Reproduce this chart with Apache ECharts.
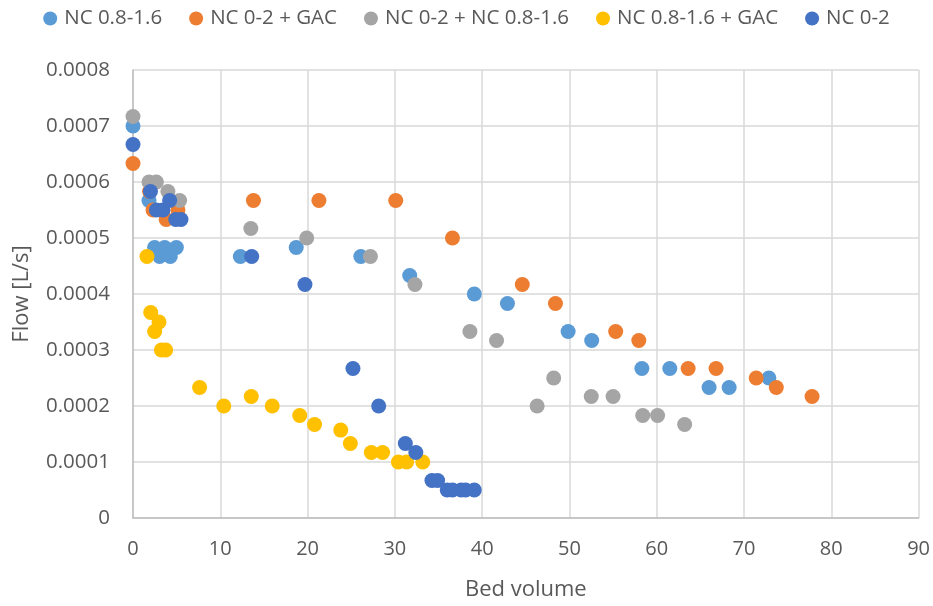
<!DOCTYPE html>
<html><head><meta charset="utf-8">
<script src="https://cdn.jsdelivr.net/npm/echarts@6/dist/echarts.min.js"></script>
<style>html,body{margin:0;padding:0;background:#fff}#c{width:933px;height:606px}</style>
</head><body><div id="c"></div>
<script>
const seriesNames = ['NC 0.8-1.6', 'NC 0-2 + GAC', 'NC 0-2 + NC 0.8-1.6', 'NC 0.8-1.6 + GAC', 'NC 0-2'];
const seriesColors = ['#5B9BD5', '#ED7D31', '#A5A5A5', '#FFC000', '#4472C4'];

const nc0816 = [
  [0, 0.0007], [1.83, 0.000567], [2.48, 0.000483], [3.05, 0.000467], [3.63, 0.000483], [4.27, 0.000467],
  [4.97, 0.000483], [12.3, 0.000467], [18.7, 0.000483], [26.1, 0.000467], [31.7, 0.000433], [39.1, 0.0004],
  [42.9, 0.000383], [49.85, 0.000333], [52.55, 0.000317], [58.3, 0.000267], [61.5, 0.000267], [66.0, 0.000233],
  [68.3, 0.000233], [72.85, 0.00025]
];
const nc02gac = [
  [0, 0.000633], [1.9, 0.000583], [2.29, 0.00055], [3.8, 0.000533], [5.15, 0.00055], [13.8, 0.000567],
  [21.3, 0.000567], [30.1, 0.000567], [36.6, 0.0005], [44.6, 0.000417], [48.4, 0.000383], [55.3, 0.000333],
  [57.95, 0.000317], [63.6, 0.000267], [66.8, 0.000267], [71.4, 0.00025], [73.7, 0.000233], [77.8, 0.000217]
];
const nc02nc0816 = [
  [0, 0.000717], [1.83, 0.0006], [2.68, 0.0006], [4.0, 0.000583], [5.34, 0.000567], [13.5, 0.000517],
  [19.9, 0.0005], [27.2, 0.000467], [32.3, 0.000417], [38.6, 0.000333], [41.65, 0.000317], [46.3, 0.0002],
  [48.2, 0.00025], [52.5, 0.000217], [55.0, 0.000217], [58.4, 0.000183], [60.1, 0.000183], [63.2, 0.000167]
];
const nc0816gac = [
  [1.6, 0.000467], [2.03, 0.000367], [2.48, 0.000333], [2.98, 0.00035], [3.25, 0.0003], [3.74, 0.0003],
  [7.63, 0.000233], [10.4, 0.0002], [13.55, 0.000217], [15.95, 0.0002], [19.1, 0.000183], [20.8, 0.000167],
  [23.8, 0.000157], [24.9, 0.000133], [27.3, 0.000117], [28.6, 0.000117], [30.4, 0.0001], [31.35, 0.0001],
  [33.2, 0.0001]
];
const nc02 = [
  [0, 0.000667], [2.0, 0.000583], [2.68, 0.00055], [3.43, 0.00055], [4.2, 0.000567], [4.9, 0.000533],
  [5.5, 0.000533], [13.6, 0.000467], [19.7, 0.000417], [25.2, 0.000267], [28.15, 0.0002], [31.2, 0.000133],
  [32.4, 0.000117], [34.25, 0.000067], [34.9, 0.000067], [36.0, 0.00005], [36.6, 0.00005], [37.6, 0.00005],
  [38.1, 0.00005], [39.1, 0.00005]
];
const allData = [nc0816, nc02gac, nc02nc0816, nc0816gac, nc02];

const xTicks = { min: 0, max: 90, interval: 10 };
const yTicks = { min: 0, max: 0.0008, interval: 0.0001 };

const font = 'Open Sans, Noto Sans, sans-serif';
const chart = echarts.init(document.getElementById('c'));
chart.setOption({
  animation: false,
  backgroundColor: '#fff',
  textStyle: { fontFamily: font },
  legend: {
    top: 3, left: 'center', itemGap: 27, itemWidth: 14, itemHeight: 14,
    icon: 'circle',
    textStyle: { fontSize: 20.5, color: '#595959', fontFamily: font, padding: [0, 0, 0, 2] },
    data: seriesNames
  },
  grid: { left: 133, right: 14, top: 70, bottom: 85, containLabel: false },
  xAxis: {
    type: 'value', min: xTicks.min, max: xTicks.max, interval: xTicks.interval,
    name: 'Bed volume', nameLocation: 'middle', nameGap: 61,
    nameTextStyle: { fontSize: 22, color: '#595959', fontFamily: font },
    axisLine: { show: true, lineStyle: { color: '#BFBFBF', width: 1.5 } },
    axisTick: { show: false },
    axisLabel: { fontSize: 20, color: '#595959', margin: 21, fontFamily: font },
    splitLine: { show: true, lineStyle: { color: '#D9D9D9', width: 1.5 } }
  },
  yAxis: {
    type: 'value', min: yTicks.min, max: yTicks.max, interval: yTicks.interval,
    name: 'Flow [L/s]', nameLocation: 'middle', nameGap: 100, nameRotate: 90,
    nameTextStyle: { fontSize: 22, color: '#595959', fontFamily: font },
    axisLine: { show: true, lineStyle: { color: '#BFBFBF', width: 1.5 } },
    axisTick: { show: false },
    axisLabel: { fontSize: 20.5, color: '#595959', margin: 23, fontFamily: font,
      formatter: v => v === 0 ? '0' : v.toFixed(4) },
    splitLine: { show: true, lineStyle: { color: '#D9D9D9', width: 1.5 } }
  },
  series: seriesNames.map((n, i) => ({
    name: n, type: 'scatter', data: allData[i], symbol: 'circle', symbolSize: 15,
    itemStyle: { color: seriesColors[i], opacity: 1 },
    emphasis: { disabled: true }
  }))
});
</script></body></html>
